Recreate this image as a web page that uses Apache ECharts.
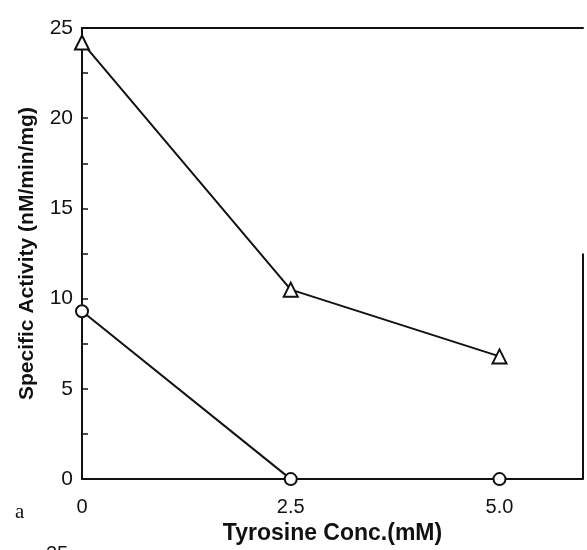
<!DOCTYPE html>
<html>
<head>
<meta charset="utf-8">
<script src="https://cdn.jsdelivr.net/npm/echarts@6/dist/echarts.min.js"></script>
<style>
  html, body { margin: 0; padding: 0; background: #fff; }
  #chart { width: 587px; height: 550px; }
</style>
</head>
<body>
<div id="chart"></div>
<script>
// tyrosine concentration (mM)
var conc = [0, 2.5, 5.0];
// specific activity, nM/min/mg
var triangleVals = [24.2, 10.5, 6.8];
var circleVals = [9.3, 0, 0];
var yTicks = [0, 5, 10, 15, 20, 25];

function pairs(xs, ys) {
  return xs.map(function (x, i) { return [x, ys[i]]; });
}

var tickFont = '"Liberation Sans Narrow", "Liberation Sans", Arial, sans-serif';
var boldFont = '"Liberation Sans", Arial, sans-serif';

var chart = echarts.init(document.getElementById('chart'));
chart.setOption({
  animation: false,
  backgroundColor: '#fff',
  grid: { left: 82, right: 4, top: 28, bottom: 69 },
  xAxis: [{
    type: 'value',
    min: 0,
    max: 6,
    interval: 2.5,
    name: 'Tyrosine Conc.(mM)',
    nameLocation: 'middle',
    nameGap: 38,
    nameTextStyle: { fontFamily: boldFont, fontWeight: 'bold', fontSize: 23, color: '#111' },
    axisLine: { lineStyle: { color: '#111', width: 2 } },
    axisTick: { show: false },
    splitLine: { show: false },
    axisLabel: {
      showMaxLabel: false,
      margin: 18,
      fontFamily: tickFont,
      fontSize: 20,
      color: '#111',
      formatter: function (v) { return v === 0 ? '0' : v.toFixed(1); }
    }
  }, {
    type: 'value',
    position: 'top',
    min: 0,
    max: 6,
    axisLine: { show: true, lineStyle: { color: '#111', width: 2 } },
    axisTick: { show: false },
    axisLabel: { show: false },
    splitLine: { show: false }
  }],
  yAxis: {
    type: 'value',
    min: yTicks[0],
    max: yTicks[yTicks.length - 1],
    interval: 5,
    name: 'Specific Activity (nM/min/mg)',
    nameLocation: 'middle',
    nameGap: 44,
    nameTextStyle: { fontFamily: boldFont, fontWeight: 'bold', fontSize: 21, color: '#111' },
    axisLine: { show: true, lineStyle: { color: '#111', width: 2 } },
    axisTick: { show: true, inside: true, length: 6, lineStyle: { color: '#111', width: 1.5 } },
    minorTick: { show: true, splitNumber: 2, length: 6, lineStyle: { color: '#111', width: 1.5 } },
    splitLine: { show: false },
    axisLabel: {
      margin: 9,
      fontFamily: tickFont,
      fontSize: 21,
      color: '#111',
      padding: [0, 0, 10, 0]
    }
  },
  series: [{
    type: 'line',
    data: pairs(conc, triangleVals),
    symbol: 'triangle',
    symbolSize: 14,
    lineStyle: { color: '#111', width: 2 },
    itemStyle: { color: '#fff', borderColor: '#111', borderWidth: 2 },
    z: 3
  }, {
    type: 'line',
    data: pairs(conc, circleVals),
    symbol: 'circle',
    symbolSize: 12,
    lineStyle: { color: '#111', width: 2 },
    itemStyle: { color: '#fff', borderColor: '#111', borderWidth: 2 },
    z: 3,
    markLine: {
      silent: true,
      symbol: 'none',
      label: { show: false },
      lineStyle: { color: '#111', width: 2, type: 'solid' },
      data: [[{ coord: [6, 12.5] }, { coord: [6, 0] }]]
    }
  }],
  graphic: [{
    type: 'text',
    left: 15,
    top: 502,
    style: { text: 'a', fontFamily: '"Liberation Serif", "DejaVu Serif", serif', fontSize: 21, fill: '#111' }
  }, {
    type: 'text',
    left: 46,
    top: 544,
    style: { text: '25', fontFamily: tickFont, fontSize: 20, fill: '#111' }
  }]
});
</script>
</body>
</html>
